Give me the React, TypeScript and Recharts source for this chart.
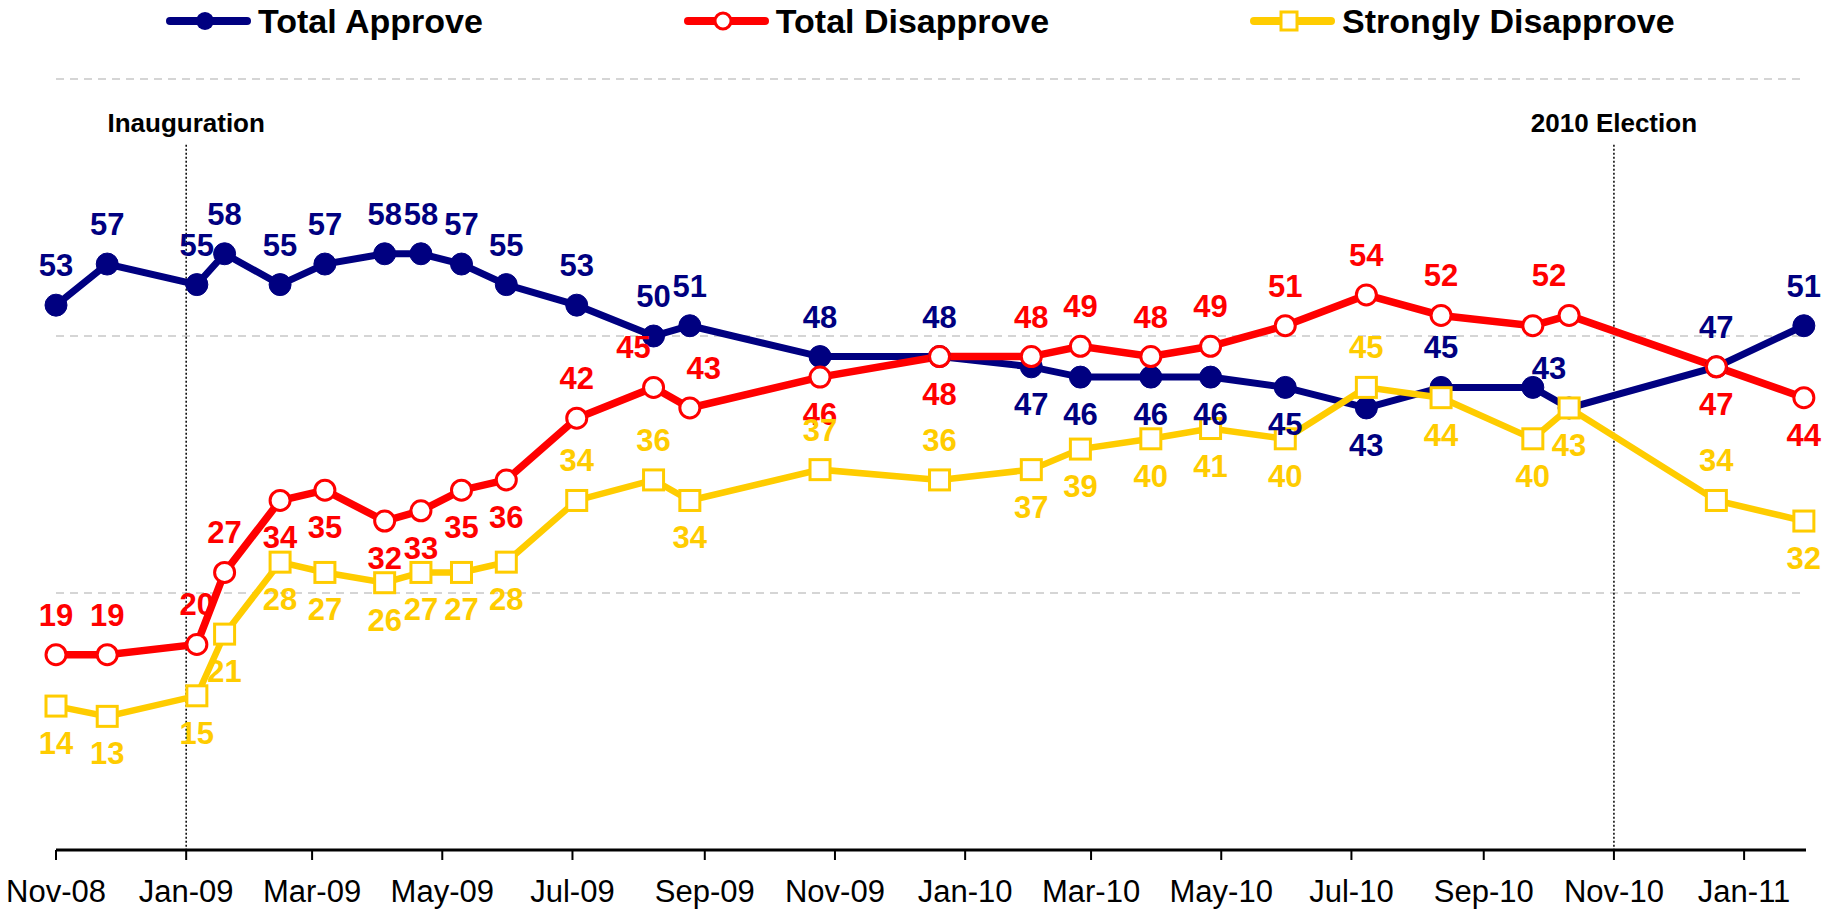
import {
  LineChart,
  Line,
  XAxis,
  YAxis,
  CartesianGrid,
  ReferenceLine,
  LabelList,
} from "recharts";

// survey field dates (approx)
const surveyDates = [
  "2008-11-01", "2008-11-25", "2009-01-06", "2009-01-19", "2009-02-14",
  "2009-03-07", "2009-04-04", "2009-04-21", "2009-05-10", "2009-05-31",
  "2009-07-03", "2009-08-08", "2009-08-25", "2009-10-25", "2009-12-20",
  "2010-02-01", "2010-02-24", "2010-03-29", "2010-04-26", "2010-05-31",
  "2010-07-08", "2010-08-12", "2010-09-24", "2010-10-11", "2010-12-19",
  "2011-01-29",
];

const totalApprove = [
  53, 57, 55, 58, 55, 57, 58, 58, 57, 55, 53, 50, 51, 48, 48, 47, 46, 46, 46,
  45, 43, 45, 45, 43, 47, 51,
];
const totalDisapprove = [
  19, 19, 20, 27, 34, 35, 32, 33, 35, 36, 42, 45, 43, 46, 48, 48, 49, 48, 49,
  51, 54, 52, 51, 52, 47, 44,
];
const stronglyDisapprove = [
  14, 13, 15, 21, 28, 27, 26, 27, 27, 28, 34, 36, 34, 37, 36, 37, 39, 40, 41,
  40, 45, 44, 40, 43, 34, 32,
];

// where each value label sits: a = above, b = below, n = not shown,
// optional L / R nudges it sideways
const approveLabelSide = [
  "a", "a", "a", "a", "a", "a", "a", "a", "a", "a", "a", "a", "a", "a", "a",
  "b", "b", "b", "b", "b", "b", "a", "n", "aL", "a", "a",
];
const disapproveLabelSide = [
  "a", "a", "a", "a", "b", "b", "b", "b", "b", "b", "a", "aL", "aR", "b", "b",
  "a", "a", "a", "a", "a", "a", "a", "n", "aL", "b", "b",
];
const stronglyLabelSide = [
  "b", "b", "b", "b", "b", "b", "b", "b", "b", "b", "a", "a", "b", "a", "a",
  "b", "b", "b", "b", "b", "a", "b", "b", "b", "a", "b",
];

const tickDates = [
  "2008-11-01", "2009-01-01", "2009-03-01", "2009-05-01", "2009-07-01",
  "2009-09-01", "2009-11-01", "2010-01-01", "2010-03-01", "2010-05-01",
  "2010-07-01", "2010-09-01", "2010-11-01", "2011-01-01",
];
const tickLabels = [
  "Nov-08", "Jan-09", "Mar-09", "May-09", "Jul-09", "Sep-09", "Nov-09",
  "Jan-10", "Mar-10", "May-10", "Jul-10", "Sep-10", "Nov-10", "Jan-11",
];

const axisStart = "2008-11-01";
const axisEnd = "2011-01-30";
const inaugurationDate = "2009-01-01";
const electionDate = "2010-11-01";

const NAVY = "#000080";
const RED = "#FF0000";
const GOLD = "#FFCC00";
const FONT = "'Liberation Sans', Arial, Helvetica, sans-serif";

function toDay(s: string) {
  const [y, m, d] = s.split("-").map(Number);
  const [y0, m0, d0] = axisStart.split("-").map(Number);
  return (Date.UTC(y, m - 1, d) - Date.UTC(y0, m0 - 1, d0)) / 86400000;
}

const data = surveyDates.map((d, i) => ({
  day: toDay(d),
  approve: totalApprove[i],
  disapprove: totalDisapprove[i],
  strongly: stronglyDisapprove[i],
}));

const tickDays = tickDates.map(toDay);

const makeLabel = (sides: string[], color: string) => (props: any) => {
  const { x, y, value, index } = props;
  const side = sides[index] || "a";
  if (side[0] === "n" || x == null || y == null) return null;
  const dx = side[1] === "L" ? -20 : side[1] === "R" ? 14 : 0;
  return (
    <text
      x={x + dx}
      y={side[0] === "a" ? y - 29 : y + 48}
      textAnchor="middle"
      fill={color}
      fontSize={31}
      fontWeight="bold"
      fontFamily={FONT}
    >
      {value}
    </text>
  );
};

const SquareDot = (props: any) => {
  const { cx, cy, index } = props;
  if (cx == null || cy == null) return null;
  return (
    <rect
      key={`sq-${index}`}
      x={cx - 10}
      y={cy - 10}
      width={20}
      height={20}
      fill="#fff"
      stroke={GOLD}
      strokeWidth={3}
    />
  );
};

function LegendItem({ color, label, marker }: { color: string; label: string; marker: string }) {
  return (
    <div style={{ display: "flex", alignItems: "center" }}>
      <svg width={88} height={30}>
        <line x1={5} y1={15} x2={82} y2={15} stroke={color} strokeWidth={8} strokeLinecap="round" />
        {marker === "dot" && <circle cx={40} cy={15} r={9} fill={color} />}
        {marker === "ring" && <circle cx={40} cy={15} r={8} fill="#fff" stroke={color} strokeWidth={3} />}
        {marker === "square" && (
          <rect x={32} y={6} width={16} height={18} fill="#fff" stroke={color} strokeWidth={3} />
        )}
      </svg>
      <span
        style={{
          marginLeft: 5,
          fontFamily: FONT,
          fontWeight: "bold",
          fontSize: 34,
          lineHeight: "36px",
          color: "#000",
        }}
      >
        {label}
      </span>
    </div>
  );
}

export default function App() {
  return (
    <div
      style={{
        position: "absolute",
        left: 0,
        top: 0,
        width: 1839,
        height: 912,
        background: "#fff",
        overflow: "hidden",
      }}
    >
      <LineChart
        width={1839}
        height={912}
        data={data}
        margin={{ top: 79, right: 33, bottom: 12, left: 56 }}
      >
        <CartesianGrid
          horizontal
          vertical={false}
          stroke="#c8c8c8"
          strokeWidth={1.5}
          strokeDasharray="8 6"
        />

        <XAxis
          dataKey="day"
          type="number"
          domain={[0, toDay(axisEnd)]}
          ticks={tickDays}
          interval={0}
          tickFormatter={(v: number) => tickLabels[tickDays.indexOf(v)] ?? ""}
          height={50}
          axisLine={{ stroke: "#000", strokeWidth: 3 }}
          tickLine={{ stroke: "#000", strokeWidth: 2 }}
          tickSize={10}
          tickMargin={20}
          tick={{ fill: "#000", fontSize: 31, fontFamily: FONT }}
        />

        <YAxis hide domain={[0, 75]} ticks={[0, 25, 50, 75]} />

        <ReferenceLine
          segment={[
            { x: toDay(inaugurationDate), y: 68.6 },
            { x: toDay(inaugurationDate), y: 0 },
          ]}
          stroke="#000"
          strokeWidth={1.5}
          strokeDasharray="2 2"
          label={{
            value: "Inauguration",
            position: "top",
            offset: 13,
            fill: "#000",
            fontSize: 26,
            fontWeight: "bold",
            fontFamily: FONT,
          }}
        />
        <ReferenceLine
          segment={[
            { x: toDay(electionDate), y: 68.6 },
            { x: toDay(electionDate), y: 0 },
          ]}
          stroke="#000"
          strokeWidth={1.5}
          strokeDasharray="2 2"
          label={{
            value: "2010 Election",
            position: "top",
            offset: 13,
            fill: "#000",
            fontSize: 26,
            fontWeight: "bold",
            fontFamily: FONT,
          }}
        />

        <Line
          dataKey="approve"
          stroke={NAVY}
          strokeWidth={7}
          dot={{ r: 11, fill: NAVY, stroke: NAVY, strokeWidth: 1 }}
          activeDot={false}
          isAnimationActive={false}
        >
          <LabelList dataKey="approve" content={makeLabel(approveLabelSide, NAVY)} />
        </Line>

        <Line
          dataKey="disapprove"
          stroke={RED}
          strokeWidth={7.5}
          dot={{ r: 10, fill: "#fff", stroke: RED, strokeWidth: 3 }}
          activeDot={false}
          isAnimationActive={false}
        >
          <LabelList dataKey="disapprove" content={makeLabel(disapproveLabelSide, RED)} />
        </Line>

        <Line
          dataKey="strongly"
          stroke={GOLD}
          strokeWidth={6.5}
          dot={<SquareDot />}
          activeDot={false}
          isAnimationActive={false}
        >
          <LabelList dataKey="strongly" content={makeLabel(stronglyLabelSide, GOLD)} />
        </Line>
      </LineChart>

      <div
        style={{
          position: "absolute",
          top: 3,
          left: 165,
          display: "flex",
          gap: 200,
        }}
      >
        <LegendItem color={NAVY} label="Total Approve" marker="dot" />
        <LegendItem color={RED} label="Total Disapprove" marker="ring" />
        <LegendItem color={GOLD} label="Strongly Disapprove" marker="square" />
      </div>
    </div>
  );
}
